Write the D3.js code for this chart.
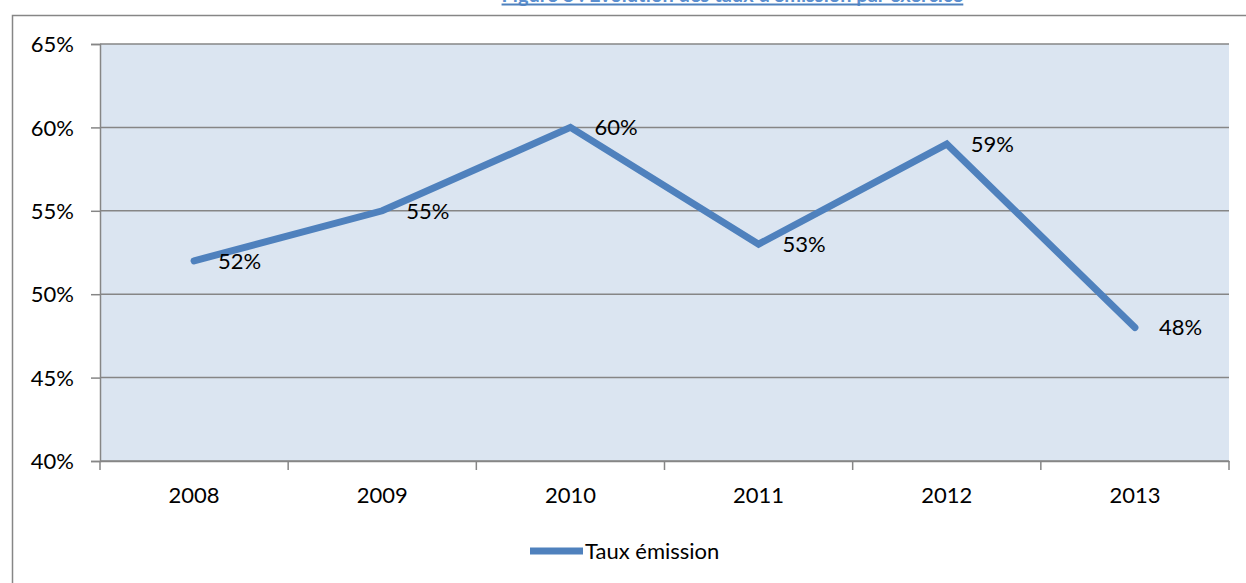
<!DOCTYPE html>
<html>
<head>
<meta charset="utf-8">
<script src="https://cdn.jsdelivr.net/npm/d3@7"></script>
<style>
  html, body { margin: 0; padding: 0; background: #fff; }
  svg { display: block; font-family: Lato, "Open Sans", sans-serif; }
</style>
</head>
<body>
<svg id="chart" width="1246" height="583"></svg>
<script>
// Taux d'émission par exercice (en %)
const years = ["2008", "2009", "2010", "2011", "2012", "2013"];
const rates = [52, 55, 60, 53, 59, 48];
const yTicks = [40, 45, 50, 55, 60, 65];
const seriesName = "Taux émission";
const title = "Figure 8 : Evolution des taux d'émission par exercice";

const svg = d3.select("#chart");
const W = 1246, H = 583;
const plot = { left: 100, top: 44, right: 1229, bottom: 461 };
const blue = "#4F81BD";
const gray = "#868686";

// Outer chart frame (continues past the right and bottom edges)
svg.append("rect")
  .attr("x", 12.5).attr("y", 15.5)
  .attr("width", W + 20).attr("height", H + 20)
  .attr("fill", "#fff").attr("stroke", gray).attr("stroke-width", 1.5);

// Title, underlined
const titleText = svg.append("text")
  .attr("x", 963).attr("y", 2)
  .attr("text-anchor", "end")
  .attr("font-size", 20).attr("font-weight", "bold")
  .attr("fill", "#5B8FD0")
  .text(title);
const tb = titleText.node().getBBox();
svg.append("line")
  .attr("x1", tb.x).attr("x2", tb.x + tb.width)
  .attr("y1", 4.5).attr("y2", 4.5)
  .attr("stroke", blue).attr("stroke-width", 2);

const x = d3.scaleBand().domain(years).range([plot.left, plot.right]);
const y = d3.scaleLinear().domain([40, 65]).range([plot.bottom, plot.top]);

// Plot area background
svg.append("rect")
  .attr("x", plot.left).attr("y", plot.top)
  .attr("width", plot.right - plot.left).attr("height", plot.bottom - plot.top)
  .attr("fill", "#DBE5F1");

// Horizontal gridlines
svg.append("g").selectAll("line").data(yTicks).join("line")
  .attr("x1", plot.left).attr("x2", plot.right)
  .attr("y1", d => y(d)).attr("y2", d => y(d))
  .attr("stroke", gray).attr("stroke-width", 1.5);

// Y axis
const yAxis = svg.append("g")
  .attr("transform", `translate(${plot.left},0)`)
  .call(d3.axisLeft(y).tickValues(yTicks).tickSize(9).tickPadding(17)
    .tickFormat(d => d + "%"));
yAxis.select(".domain").attr("stroke", gray).attr("stroke-width", 1.5);
yAxis.selectAll(".tick line").attr("stroke", gray).attr("stroke-width", 1.5);
yAxis.selectAll(".tick text")
  .attr("font-size", 22).attr("font-family", "Lato, sans-serif")
  .attr("fill", "#000").attr("dy", "0.35em");

// X axis with tick marks at category boundaries
const xAxis = svg.append("g")
  .attr("transform", `translate(0,${plot.bottom})`)
  .call(d3.axisBottom(x).tickSize(0).tickPadding(26));
xAxis.select(".domain").attr("stroke", gray).attr("stroke-width", 1.5);
xAxis.selectAll(".tick text")
  .attr("font-size", 22).attr("font-family", "Lato, sans-serif").attr("fill", "#000");
const boundaries = years.map(d => x(d)).concat([plot.right]);
xAxis.append("g").selectAll("line").data(boundaries).join("line")
  .attr("x1", d => d).attr("x2", d => d)
  .attr("y1", 0).attr("y2", 9)
  .attr("stroke", gray).attr("stroke-width", 1.5);

// Series line
const pts = years.map((yr, i) => ({ yr, v: rates[i] }));
const line = d3.line()
  .x(d => x(d.yr) + x.bandwidth() / 2)
  .y(d => y(d.v));
svg.append("path")
  .datum(pts)
  .attr("d", line)
  .attr("fill", "none")
  .attr("stroke", blue)
  .attr("stroke-width", 7)
  .attr("stroke-linecap", "round")
  .attr("stroke-linejoin", "miter");

// Data labels to the right of each point
svg.append("g").selectAll("text").data(pts).join("text")
  .attr("x", d => x(d.yr) + x.bandwidth() / 2 + 24)
  .attr("y", d => y(d.v))
  .attr("dy", "0.35em")
  .attr("font-size", 22)
  .attr("fill", "#000")
  .text(d => d.v + "%");

// Legend
const lg = svg.append("g").attr("transform", "translate(530,551)");
lg.append("line")
  .attr("x1", 0).attr("x2", 53).attr("y1", 0).attr("y2", 0)
  .attr("stroke", blue).attr("stroke-width", 7);
lg.append("text")
  .attr("x", 55).attr("y", 0).attr("dy", "0.35em")
  .attr("font-size", 22).attr("fill", "#000")
  .text(seriesName);
</script>
</body>
</html>
